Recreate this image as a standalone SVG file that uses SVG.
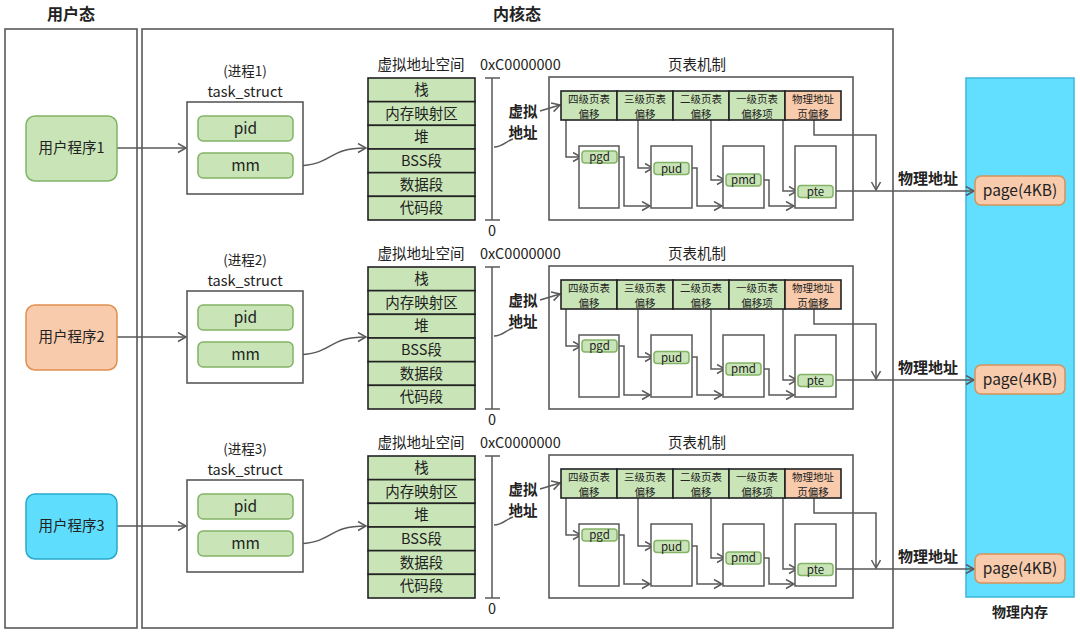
<svg xmlns="http://www.w3.org/2000/svg" width="1080" height="635" viewBox="0 0 1080 635">
<defs>
<style>
.t{font-family:"Noto Sans CJK SC","Noto Sans",sans-serif;fill:#222;text-anchor:middle}
.b{font-weight:bold}
.frame{fill:#fff;stroke:#595959;stroke-width:1.6}
.gn{fill:#C9E5B7;stroke:#82B366;stroke-width:1.5}
.cell{fill:#C9E5B7;stroke:#222;stroke-width:1.6}
.cello{fill:#F8CBAD;stroke:#222;stroke-width:1.6}
.tbl{fill:#fff;stroke:#595959;stroke-width:1.5}
.ln{fill:none;stroke:#595959;stroke-width:1.5}
.arr{marker-end:url(#ah)}
.ct{font-size:10.5px}
</style>
<marker id="ah" markerUnits="userSpaceOnUse" markerWidth="12" markerHeight="12" refX="9" refY="5" orient="auto">
<path d="M1,0.5 L9,5 L1,9.5" fill="none" stroke="#595959" stroke-width="1.5"/>
</marker>
</defs>
<rect width="1080" height="635" fill="#fff"/>

<g id="containers">
<text class="t b" x="71" y="20" font-size="16">用户态</text>
<rect class="frame" x="5" y="29" width="132" height="599"/>
<text class="t b" x="517" y="20" font-size="16">内核态</text>
<rect class="frame" x="142" y="29" width="751" height="599"/>
<g id="physmem">
<rect x="966" y="78" width="108" height="519" fill="#62DEFF" stroke="#3CB7D9" stroke-width="1.5"/>
<text class="t b" x="1020" y="617" font-size="14">物理内存</text>
</g>
</g>

<g id="ptm-frames">
<g id="ptm1-frame"><rect class="frame" x="549" y="77" width="304" height="143"/><text class="t" x="697" y="70" font-size="14.5">页表机制</text></g>
<g id="ptm2-frame" transform="translate(0,189)"><rect class="frame" x="549" y="77" width="304" height="143"/><text class="t" x="697" y="70" font-size="14.5">页表机制</text></g>
<g id="ptm3-frame" transform="translate(0,378)"><rect class="frame" x="549" y="77" width="304" height="143"/><text class="t" x="697" y="70" font-size="14.5">页表机制</text></g>
</g>

<g id="connectors">
<g id="conn-row1">
<path class="ln arr" d="M117,148 H186"/>
<path class="ln arr" d="M293,166 C335,166 325,148 366,148"/>
<path class="ln" d="M494,147 C503,147 506,141 513,139"/>
<path class="ln arr" d="M540,111 L560,105"/>
<path class="ln arr" d="M566,120 V157 H581"/>
<path class="ln arr" d="M638,120 V168 H653"/>
<path class="ln arr" d="M711,120 V180 H725"/>
<path class="ln arr" d="M783,120 V191 H797"/>
<path class="ln arr" d="M617,157 H624 V206 H650"/>
<path class="ln arr" d="M689,168 H697 V206 H722"/>
<path class="ln arr" d="M761,180 H769 V206 H794"/>
<path class="ln arr" d="M833,191 H974"/>
<path class="ln arr" d="M814,120 V135 H876 V190"/>
</g>
<g id="conn-row2" transform="translate(0,189)">
<path class="ln arr" d="M117,148 H186"/>
<path class="ln arr" d="M293,166 C335,166 325,148 366,148"/>
<path class="ln" d="M494,147 C503,147 506,141 513,139"/>
<path class="ln arr" d="M540,111 L560,105"/>
<path class="ln arr" d="M566,120 V157 H581"/>
<path class="ln arr" d="M638,120 V168 H653"/>
<path class="ln arr" d="M711,120 V180 H725"/>
<path class="ln arr" d="M783,120 V191 H797"/>
<path class="ln arr" d="M617,157 H624 V206 H650"/>
<path class="ln arr" d="M689,168 H697 V206 H722"/>
<path class="ln arr" d="M761,180 H769 V206 H794"/>
<path class="ln arr" d="M833,191 H974"/>
<path class="ln arr" d="M814,120 V135 H876 V190"/>
</g>
<g id="conn-row3" transform="translate(0,378)">
<path class="ln arr" d="M117,148 H186"/>
<path class="ln arr" d="M293,166 C335,166 325,148 366,148"/>
<path class="ln" d="M494,147 C503,147 506,141 513,139"/>
<path class="ln arr" d="M540,111 L560,105"/>
<path class="ln arr" d="M566,120 V157 H581"/>
<path class="ln arr" d="M638,120 V168 H653"/>
<path class="ln arr" d="M711,120 V180 H725"/>
<path class="ln arr" d="M783,120 V191 H797"/>
<path class="ln arr" d="M617,157 H624 V206 H650"/>
<path class="ln arr" d="M689,168 H697 V206 H722"/>
<path class="ln arr" d="M761,180 H769 V206 H794"/>
<path class="ln arr" d="M833,191 H974"/>
<path class="ln arr" d="M814,120 V135 H876 V190"/>
</g>
</g>

<!-- Row 1 -->
<g id="row1">
<g id="prog1"><rect x="26" y="116" width="91" height="65" rx="9" fill="#C9E5B7" stroke="#82B366" stroke-width="1.5"/><text class="t" x="71.5" y="153" font-size="14.5">用户程序1</text></g>
<g id="task1">
<text class="t" x="245" y="75.5" font-size="13.5">(进程1)</text>
<text class="t" x="245" y="96.5" font-size="14.5">task_struct</text>
<rect class="frame" x="187" y="102" width="116" height="92"/>
<g id="pid1"><rect class="gn" x="198" y="116" width="95" height="25" rx="5"/><text class="t" x="245.5" y="134" font-size="15.5">pid</text></g>
<g id="mm1"><rect class="gn" x="198" y="153" width="95" height="25" rx="5"/><text class="t" x="245.5" y="171" font-size="15.5">mm</text></g>
</g>
<g id="vas1">
<text class="t" x="421" y="70" font-size="14.5">虚拟地址空间</text>
<rect class="cell" x="368" y="78" width="107" height="23.67"/><text class="t" x="421.5" y="95" font-size="14.5">栈</text>
<rect class="cell" x="368" y="101.67" width="107" height="23.67"/><text class="t" x="421.5" y="118.5" font-size="14.5">内存映射区</text>
<rect class="cell" x="368" y="125.33" width="107" height="23.67"/><text class="t" x="421.5" y="142" font-size="14.5">堆</text>
<rect class="cell" x="368" y="149" width="107" height="23.67"/><text class="t" x="421.5" y="166" font-size="14.5">BSS段</text>
<rect class="cell" x="368" y="172.67" width="107" height="23.67"/><text class="t" x="421.5" y="189.5" font-size="14.5">数据段</text>
<rect class="cell" x="368" y="196.33" width="107" height="23.67"/><text class="t" x="421.5" y="213" font-size="14.5">代码段</text>
</g>
<g id="scale1">
<path class="ln" d="M492,78 V220 M485,78 H500 M485,220 H500"/>
<text class="t" x="480" y="70" font-size="14.5" style="text-anchor:start">0xC0000000</text>
<text class="t" x="492" y="236" font-size="14.5">0</text>
<text class="t b" x="523" y="116.5" font-size="14.5">虚拟</text>
<text class="t b" x="523" y="138" font-size="14.5">地址</text>
</g>
<g id="ptm1">
<rect class="cell" x="561" y="91" width="56" height="29"/><text class="t ct" x="589" y="102.5">四级页表</text><text class="t ct" x="589" y="117.8">偏移</text>
<rect class="cell" x="617" y="91" width="56" height="29"/><text class="t ct" x="645" y="102.5">三级页表</text><text class="t ct" x="645" y="117.8">偏移</text>
<rect class="cell" x="673" y="91" width="56" height="29"/><text class="t ct" x="701" y="102.5">二级页表</text><text class="t ct" x="701" y="117.8">偏移</text>
<rect class="cell" x="729" y="91" width="56" height="29"/><text class="t ct" x="757" y="102.5">一级页表</text><text class="t ct" x="757" y="117.8">偏移项</text>
<rect class="cello" x="785" y="91" width="56" height="29"/><text class="t ct" x="813" y="102.5">物理地址</text><text class="t ct" x="813" y="117.8">页偏移</text>
<rect class="tbl" x="579" y="146" width="40" height="62"/>
<rect class="tbl" x="651" y="146" width="41" height="62"/>
<rect class="tbl" x="723" y="146" width="41" height="62"/>
<rect class="tbl" x="795" y="146" width="41" height="62"/>
<rect class="gn" x="582" y="151" width="35" height="12" rx="3"/><text class="t" x="599.5" y="161" font-size="11.5">pgd</text>
<rect class="gn" x="654" y="162.5" width="35" height="12" rx="3"/><text class="t" x="671.5" y="172.5" font-size="11.5">pud</text>
<rect class="gn" x="726" y="174" width="35" height="12" rx="3"/><text class="t" x="743.5" y="184" font-size="11.5">pmd</text>
<rect class="gn" x="798" y="185.5" width="35" height="12" rx="3"/><text class="t" x="815.5" y="195.5" font-size="11.5">pte</text>
</g>
<g id="page1">
<text class="t b" x="928" y="184" font-size="15">物理地址</text>
<rect x="975" y="176" width="90" height="29" rx="6" fill="#F8CBAD" stroke="#D6935A" stroke-width="1.5"/><text class="t" x="1020" y="196" font-size="15.5">page(4KB)</text>
</g>
</g>

<!-- Row 2 -->
<g id="row2" transform="translate(0,189)">
<g id="prog2"><rect x="26" y="116" width="91" height="65" rx="9" fill="#F8CBAD" stroke="#E0904F" stroke-width="1.5"/><text class="t" x="71.5" y="153" font-size="14.5">用户程序2</text></g>
<g id="task2">
<text class="t" x="245" y="75.5" font-size="13.5">(进程2)</text>
<text class="t" x="245" y="96.5" font-size="14.5">task_struct</text>
<rect class="frame" x="187" y="102" width="116" height="92"/>
<g id="pid2"><rect class="gn" x="198" y="116" width="95" height="25" rx="5"/><text class="t" x="245.5" y="134" font-size="15.5">pid</text></g>
<g id="mm2"><rect class="gn" x="198" y="153" width="95" height="25" rx="5"/><text class="t" x="245.5" y="171" font-size="15.5">mm</text></g>
</g>
<g id="vas2">
<text class="t" x="421" y="70" font-size="14.5">虚拟地址空间</text>
<rect class="cell" x="368" y="78" width="107" height="23.67"/><text class="t" x="421.5" y="95" font-size="14.5">栈</text>
<rect class="cell" x="368" y="101.67" width="107" height="23.67"/><text class="t" x="421.5" y="118.5" font-size="14.5">内存映射区</text>
<rect class="cell" x="368" y="125.33" width="107" height="23.67"/><text class="t" x="421.5" y="142" font-size="14.5">堆</text>
<rect class="cell" x="368" y="149" width="107" height="23.67"/><text class="t" x="421.5" y="166" font-size="14.5">BSS段</text>
<rect class="cell" x="368" y="172.67" width="107" height="23.67"/><text class="t" x="421.5" y="189.5" font-size="14.5">数据段</text>
<rect class="cell" x="368" y="196.33" width="107" height="23.67"/><text class="t" x="421.5" y="213" font-size="14.5">代码段</text>
</g>
<g id="scale2">
<path class="ln" d="M492,78 V220 M485,78 H500 M485,220 H500"/>
<text class="t" x="480" y="70" font-size="14.5" style="text-anchor:start">0xC0000000</text>
<text class="t" x="492" y="236" font-size="14.5">0</text>
<text class="t b" x="523" y="116.5" font-size="14.5">虚拟</text>
<text class="t b" x="523" y="138" font-size="14.5">地址</text>
</g>
<g id="ptm2">
<rect class="cell" x="561" y="91" width="56" height="29"/><text class="t ct" x="589" y="102.5">四级页表</text><text class="t ct" x="589" y="117.8">偏移</text>
<rect class="cell" x="617" y="91" width="56" height="29"/><text class="t ct" x="645" y="102.5">三级页表</text><text class="t ct" x="645" y="117.8">偏移</text>
<rect class="cell" x="673" y="91" width="56" height="29"/><text class="t ct" x="701" y="102.5">二级页表</text><text class="t ct" x="701" y="117.8">偏移</text>
<rect class="cell" x="729" y="91" width="56" height="29"/><text class="t ct" x="757" y="102.5">一级页表</text><text class="t ct" x="757" y="117.8">偏移项</text>
<rect class="cello" x="785" y="91" width="56" height="29"/><text class="t ct" x="813" y="102.5">物理地址</text><text class="t ct" x="813" y="117.8">页偏移</text>
<rect class="tbl" x="579" y="146" width="40" height="62"/>
<rect class="tbl" x="651" y="146" width="41" height="62"/>
<rect class="tbl" x="723" y="146" width="41" height="62"/>
<rect class="tbl" x="795" y="146" width="41" height="62"/>
<rect class="gn" x="582" y="151" width="35" height="12" rx="3"/><text class="t" x="599.5" y="161" font-size="11.5">pgd</text>
<rect class="gn" x="654" y="162.5" width="35" height="12" rx="3"/><text class="t" x="671.5" y="172.5" font-size="11.5">pud</text>
<rect class="gn" x="726" y="174" width="35" height="12" rx="3"/><text class="t" x="743.5" y="184" font-size="11.5">pmd</text>
<rect class="gn" x="798" y="185.5" width="35" height="12" rx="3"/><text class="t" x="815.5" y="195.5" font-size="11.5">pte</text>
</g>
<g id="page2">
<text class="t b" x="928" y="184" font-size="15">物理地址</text>
<rect x="975" y="176" width="90" height="29" rx="6" fill="#F8CBAD" stroke="#D6935A" stroke-width="1.5"/><text class="t" x="1020" y="196" font-size="15.5">page(4KB)</text>
</g>
</g>

<!-- Row 3 -->
<g id="row3" transform="translate(0,378)">
<g id="prog3"><rect x="26" y="116" width="91" height="65" rx="9" fill="#5EDDFD" stroke="#29A9CC" stroke-width="1.5"/><text class="t" x="71.5" y="153" font-size="14.5">用户程序3</text></g>
<g id="task3">
<text class="t" x="245" y="75.5" font-size="13.5">(进程3)</text>
<text class="t" x="245" y="96.5" font-size="14.5">task_struct</text>
<rect class="frame" x="187" y="102" width="116" height="92"/>
<g id="pid3"><rect class="gn" x="198" y="116" width="95" height="25" rx="5"/><text class="t" x="245.5" y="134" font-size="15.5">pid</text></g>
<g id="mm3"><rect class="gn" x="198" y="153" width="95" height="25" rx="5"/><text class="t" x="245.5" y="171" font-size="15.5">mm</text></g>
</g>
<g id="vas3">
<text class="t" x="421" y="70" font-size="14.5">虚拟地址空间</text>
<rect class="cell" x="368" y="78" width="107" height="23.67"/><text class="t" x="421.5" y="95" font-size="14.5">栈</text>
<rect class="cell" x="368" y="101.67" width="107" height="23.67"/><text class="t" x="421.5" y="118.5" font-size="14.5">内存映射区</text>
<rect class="cell" x="368" y="125.33" width="107" height="23.67"/><text class="t" x="421.5" y="142" font-size="14.5">堆</text>
<rect class="cell" x="368" y="149" width="107" height="23.67"/><text class="t" x="421.5" y="166" font-size="14.5">BSS段</text>
<rect class="cell" x="368" y="172.67" width="107" height="23.67"/><text class="t" x="421.5" y="189.5" font-size="14.5">数据段</text>
<rect class="cell" x="368" y="196.33" width="107" height="23.67"/><text class="t" x="421.5" y="213" font-size="14.5">代码段</text>
</g>
<g id="scale3">
<path class="ln" d="M492,78 V220 M485,78 H500 M485,220 H500"/>
<text class="t" x="480" y="70" font-size="14.5" style="text-anchor:start">0xC0000000</text>
<text class="t" x="492" y="236" font-size="14.5">0</text>
<text class="t b" x="523" y="116.5" font-size="14.5">虚拟</text>
<text class="t b" x="523" y="138" font-size="14.5">地址</text>
</g>
<g id="ptm3">
<rect class="cell" x="561" y="91" width="56" height="29"/><text class="t ct" x="589" y="102.5">四级页表</text><text class="t ct" x="589" y="117.8">偏移</text>
<rect class="cell" x="617" y="91" width="56" height="29"/><text class="t ct" x="645" y="102.5">三级页表</text><text class="t ct" x="645" y="117.8">偏移</text>
<rect class="cell" x="673" y="91" width="56" height="29"/><text class="t ct" x="701" y="102.5">二级页表</text><text class="t ct" x="701" y="117.8">偏移</text>
<rect class="cell" x="729" y="91" width="56" height="29"/><text class="t ct" x="757" y="102.5">一级页表</text><text class="t ct" x="757" y="117.8">偏移项</text>
<rect class="cello" x="785" y="91" width="56" height="29"/><text class="t ct" x="813" y="102.5">物理地址</text><text class="t ct" x="813" y="117.8">页偏移</text>
<rect class="tbl" x="579" y="146" width="40" height="62"/>
<rect class="tbl" x="651" y="146" width="41" height="62"/>
<rect class="tbl" x="723" y="146" width="41" height="62"/>
<rect class="tbl" x="795" y="146" width="41" height="62"/>
<rect class="gn" x="582" y="151" width="35" height="12" rx="3"/><text class="t" x="599.5" y="161" font-size="11.5">pgd</text>
<rect class="gn" x="654" y="162.5" width="35" height="12" rx="3"/><text class="t" x="671.5" y="172.5" font-size="11.5">pud</text>
<rect class="gn" x="726" y="174" width="35" height="12" rx="3"/><text class="t" x="743.5" y="184" font-size="11.5">pmd</text>
<rect class="gn" x="798" y="185.5" width="35" height="12" rx="3"/><text class="t" x="815.5" y="195.5" font-size="11.5">pte</text>
</g>
<g id="page3">
<text class="t b" x="928" y="184" font-size="15">物理地址</text>
<rect x="975" y="176" width="90" height="29" rx="6" fill="#F8CBAD" stroke="#D6935A" stroke-width="1.5"/><text class="t" x="1020" y="196" font-size="15.5">page(4KB)</text>
</g>
</g>
</svg>
